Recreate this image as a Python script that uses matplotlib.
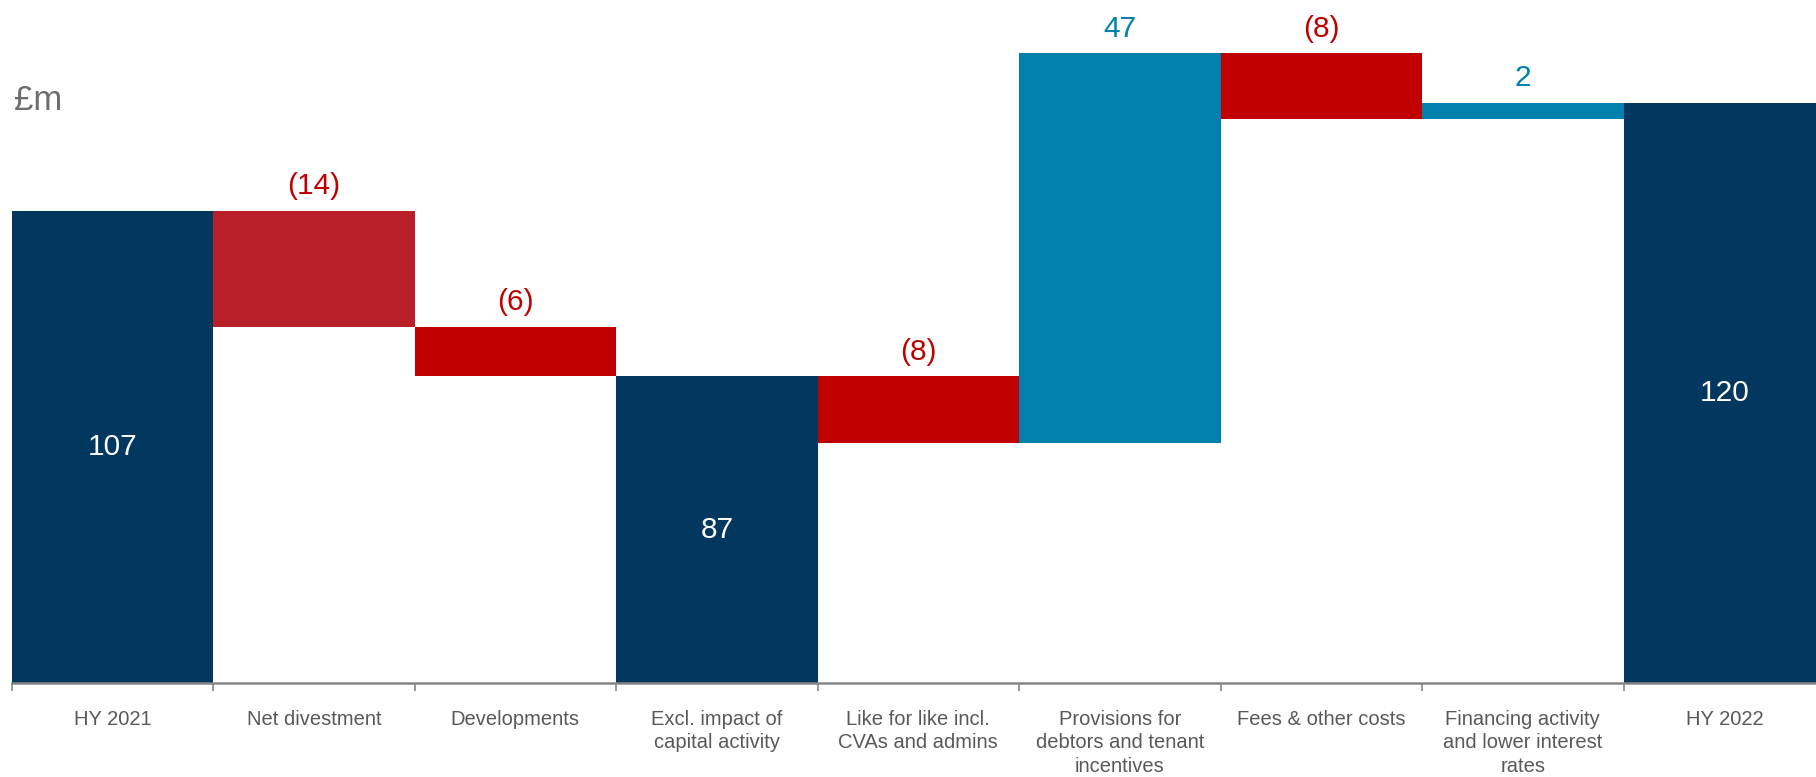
import matplotlib.pyplot as plt
import numpy as np

plt.rcParams['font.family'] = ['Liberation Sans', 'DejaVu Sans']

categories = ["HY 2021", "Net divestment", "Developments",
              "Excl. impact of\ncapital activity", "Like for like incl.\nCVAs and admins",
              "Provisions for\ndebtors and tenant\nincentives", "Fees & other costs",
              "Financing activity\nand lower interest\nrates", "HY 2022"]
# None marks a running-total bar, numbers are movements
changes = [107, -14, -6, None, -8, 47, -8, 2, None]
totals = {0: 107, 3: 87, 8: 120}

NAVY = "#02375f"
RED = "#c00000"
RED_DIV = "#b91f28"
TEAL = "#0080ad"

y_lo, y_hi = 50, 132.4

fig = plt.figure(figsize=(18.16, 7.77), dpi=100)
ax = fig.add_axes([11.6 / 1816, 1 - 683.3 / 777, 9 * 201.5 / 1816, 683.3 / 777])

running = 0
for i, ch in enumerate(changes):
    if i in totals:
        val = totals[i]
        running = val
        ax.bar(i, val, width=1.0, color=NAVY, linewidth=0)
        ax.text(i, (y_lo + val) / 2, f"{val}", color="white", fontsize=21.5,
                ha="center", va="center")
        continue
    start = running
    end = running + ch
    colour = TEAL if ch > 0 else (RED_DIV if i == 1 else RED)
    ax.bar(i, end - start, bottom=start, width=1.0, color=colour, linewidth=0)
    label = f"{ch}" if ch > 0 else f"({-ch})"
    ax.annotate(label, (i, max(start, end)), xytext=(0, 11.8), textcoords="offset points",
                color=TEAL if ch > 0 else RED, fontsize=21.5, ha="center", va="baseline")
    running = end

ax.set_xlim(-0.5, len(categories) - 0.5)
ax.set_ylim(y_lo, y_hi)

for side in ["top", "right", "left"]:
    ax.spines[side].set_visible(False)
ax.spines["bottom"].set_color("#868686")
ax.spines["bottom"].set_linewidth(1.8)
ax.set_yticks([])

ax.set_xticks(np.arange(len(categories)))
ax.set_xticklabels(categories, fontsize=14.5, color="#595959", linespacing=1.32, va="top")
ax.tick_params(axis="x", which="major", length=0, pad=19)
ax.set_xticks(np.arange(len(categories) + 1) - 0.5, minor=True)
ax.tick_params(axis="x", which="minor", length=6, width=1.2, color="#868686", direction="out")

fig.text(14 / 1816, 1 - 101 / 777, "£m", fontsize=25, color="#6d6d6d", ha="left", va="center")

fig.savefig("out.png", dpi=100)
